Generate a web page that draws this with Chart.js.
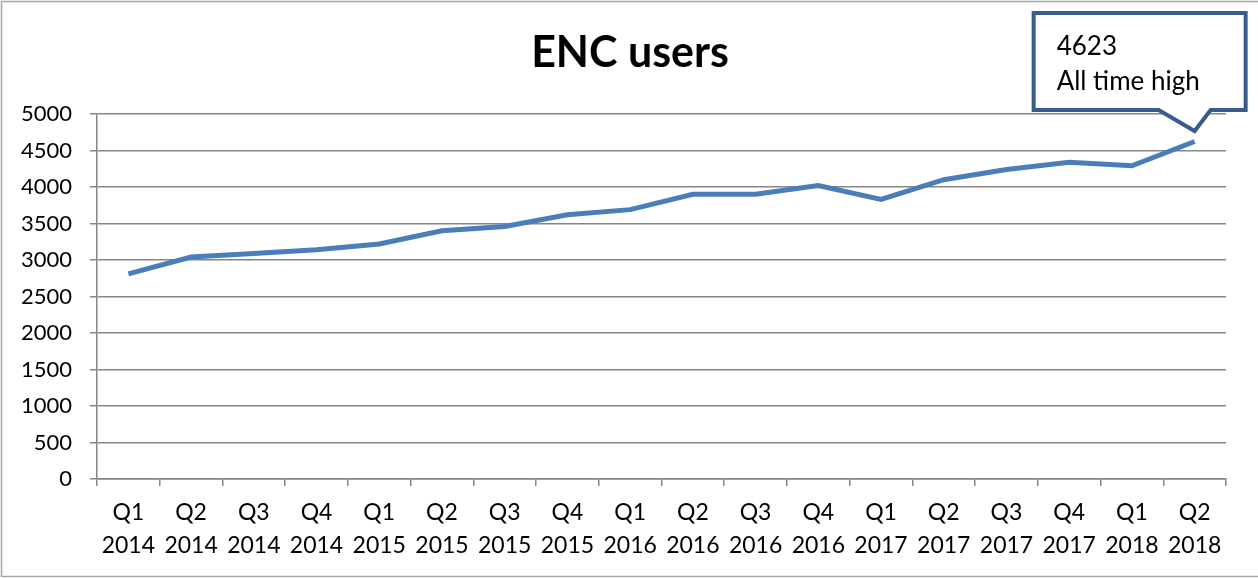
<!DOCTYPE html>
<html>
<head>
<meta charset="utf-8">
<script src="https://cdn.jsdelivr.net/npm/chart.js@4/dist/chart.umd.min.js"></script>
<style>
  html, body { margin: 0; padding: 0; background: #fff; }
  #wrap { width: 1258px; height: 578px; }
</style>
</head>
<body>
<div id="wrap"><canvas id="grafica" width="1258" height="578"></canvas></div>
<script>
var trimestres = ['Q1','Q2','Q3','Q4','Q1','Q2','Q3','Q4','Q1','Q2','Q3','Q4','Q1','Q2','Q3','Q4','Q1','Q2']
var anios      = ['2014','2014','2014','2014','2015','2015','2015','2015','2016','2016','2016','2016','2017','2017','2017','2017','2018','2018']
var usuarios   = [2810, 3040, 3090, 3140, 3220, 3400, 3460, 3620, 3690, 3900, 3900, 4020, 3830, 4100, 4240, 4340, 4290, 4623]
var titulo = 'ENC users'
var nota = 'All time high'

var etiquetas = trimestres.map(function (q, i) { return [q, anios[i]] })

// marco gris y titulo centrado en todo el lienzo
var marco = {
  id: 'marco',
  afterDraw: function (chart) {
    var c = chart.ctx
    c.save()
    c.strokeStyle = '#a6a6a6'
    c.lineWidth = 1.5
    c.strokeRect(1.5, 1.5, chart.width + 10, chart.height - 3)
    c.fillStyle = '#000'
    c.font = 'bold 43px Lato'
    c.textAlign = 'center'
    c.textBaseline = 'alphabetic'
    c.fillText(titulo, chart.width / 2 + 1, 67)
    c.restore()
  }
}

// globo con el maximo historico, pegado al ultimo punto
var globo = {
  id: 'globo',
  afterDatasetsDraw: function (chart) {
    var meta = chart.getDatasetMeta(0)
    var pt = meta.data[meta.data.length - 1]
    var px = pt.x, py = pt.y
    var c = chart.ctx
    var l = px - 161, r = px + 51, t = py - 128.5, b = py - 31.5
    c.save()
    c.beginPath()
    c.moveTo(l, t)
    c.lineTo(r, t)
    c.lineTo(r, b)
    c.lineTo(px + 16, b)
    c.lineTo(px, py - 10.5)
    c.lineTo(px - 36, b)
    c.lineTo(l, b)
    c.closePath()
    c.fillStyle = '#ffffff'
    c.fill()
    c.lineWidth = 4
    c.lineJoin = 'miter'
    c.strokeStyle = '#385d8a'
    c.stroke()
    c.fillStyle = '#000'
    c.font = '26px Lato'
    c.textAlign = 'left'
    c.textBaseline = 'alphabetic'
    c.fillText(String(usuarios[usuarios.length - 1]), px - 138, py - 86.5)
    c.fillText(nota, px - 138, py - 51.5)
    c.restore()
  }
}

function grafica(ctx) {
  var g = new Chart(ctx, {
    type: 'line',
    data: {
      labels: etiquetas,
      datasets: [{
        label: titulo,
        data: usuarios,
        borderColor: '#4a7ebb',
        borderWidth: 5,
        tension: 0,
        pointRadius: 0,
        fill: false
      }]
    },
    options: {
      responsive: false,
      animation: false,
      layout: { padding: { top: 114, left: 0, right: 32, bottom: 0 } },
      plugins: {
        legend: { display: false },
        tooltip: { enabled: false },
        title: { display: false }
      },
      scales: {
        x: {
          offset: true,
          grid: {
            offset: true,
            drawOnChartArea: false,
            drawTicks: true,
            tickLength: 7,
            color: '#868686',
            lineWidth: 1.5
          },
          border: { color: '#868686', width: 1.5 },
          ticks: {
            color: '#000',
            font: { family: 'Lato', size: 23, lineHeight: 1.45 },
            padding: 10,
            maxRotation: 0,
            autoSkip: false
          },
          afterFit: function (s) { s.height = 99 }
        },
        y: {
          min: 0,
          max: 5000,
          ticks: {
            stepSize: 500,
            color: '#000',
            font: { family: 'Lato', size: 22 },
            padding: 18,
            callback: function (v) { return String(v) }
          },
          grid: {
            color: '#868686',
            lineWidth: 1.5,
            tickLength: 7
          },
          border: { color: '#868686', width: 1.5 },
          afterFit: function (s) { s.width = 97 }
        }
      }
    },
    plugins: [globo, marco]
  })
  return g
}

grafica(document.getElementById('grafica').getContext('2d'))
</script>
</body>
</html>
